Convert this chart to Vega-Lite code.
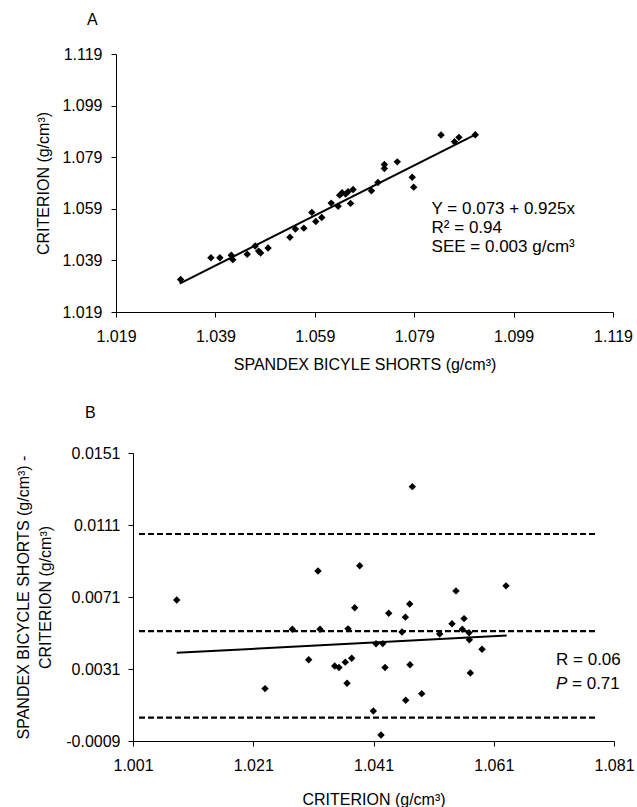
{
  "$schema": "https://vega.github.io/schema/vega-lite/v6.json",
  "padding": {"left": 15, "top": 12, "right": 0, "bottom": 0},
  "spacing": 33,
  "config": {
    "view": {"stroke": null},
    "font": "Liberation Sans",
    "axis": {
      "grid": false,
      "domainColor": "#000000",
      "tickColor": "#000000",
      "labelColor": "#000000",
      "titleColor": "#000000",
      "tickSize": 5,
      "labelFontSize": 16,
      "titleFontSize": 16,
      "titleFontWeight": "normal",
      "labelFont": "Liberation Sans",
      "titleFont": "Liberation Sans",
      "labelFlush": false,
      "labelOverlap": false
    },
    "title": {"font": "Liberation Sans", "fontSize": 16, "fontWeight": "normal", "color": "#000000", "anchor": "start", "frame": "group"}
  },
  "datasets": {
    "topPts": [
      {"x": 1.0320, "y": 1.0316}, {"x": 1.0381, "y": 1.0400}, {"x": 1.0399, "y": 1.0400}, {"x": 1.0422, "y": 1.0410},
      {"x": 1.0425, "y": 1.0393}, {"x": 1.0454, "y": 1.0414}, {"x": 1.0470, "y": 1.0446}, {"x": 1.0477, "y": 1.0426},
      {"x": 1.0481, "y": 1.0419}, {"x": 1.0496, "y": 1.0438}, {"x": 1.0540, "y": 1.0480}, {"x": 1.0551, "y": 1.0512},
      {"x": 1.0568, "y": 1.0515}, {"x": 1.0584, "y": 1.0576}, {"x": 1.0592, "y": 1.0541}, {"x": 1.0604, "y": 1.0556},
      {"x": 1.0623, "y": 1.0612}, {"x": 1.0637, "y": 1.0600}, {"x": 1.0640, "y": 1.0643}, {"x": 1.0645, "y": 1.0652},
      {"x": 1.0652, "y": 1.0647}, {"x": 1.0657, "y": 1.0656}, {"x": 1.0662, "y": 1.0611}, {"x": 1.0667, "y": 1.0665},
      {"x": 1.0704, "y": 1.0660}, {"x": 1.0717, "y": 1.0692}, {"x": 1.0730, "y": 1.0762}, {"x": 1.0730, "y": 1.0746},
      {"x": 1.0756, "y": 1.0772}, {"x": 1.0786, "y": 1.0712}, {"x": 1.0789, "y": 1.0674}, {"x": 1.0844, "y": 1.0876},
      {"x": 1.0871, "y": 1.0850}, {"x": 1.0880, "y": 1.0867}, {"x": 1.0913, "y": 1.0877}
    ],
    "topLine": [{"x": 1.0318, "y": 1.0300}, {"x": 1.0916, "y": 1.0880}],
    "topText": [
      {"x": 1.0825, "y": 1.0588, "label": "Y = 0.073 + 0.925x"},
      {"x": 1.0825, "y": 1.0515, "label": "R² = 0.94"},
      {"x": 1.0825, "y": 1.0441, "label": "SEE = 0.003 g/cm³"}
    ],
    "botPts": [
      {"x": 1.00827, "y": 0.00693}, {"x": 1.02296, "y": 0.00201}, {"x": 1.02750, "y": 0.00531}, {"x": 1.03022, "y": 0.00361},
      {"x": 1.03177, "y": 0.00854}, {"x": 1.03210, "y": 0.00531}, {"x": 1.03455, "y": 0.00327}, {"x": 1.03526, "y": 0.00318},
      {"x": 1.03631, "y": 0.00348}, {"x": 1.03660, "y": 0.00231}, {"x": 1.03676, "y": 0.00533}, {"x": 1.03738, "y": 0.00370},
      {"x": 1.03788, "y": 0.00650}, {"x": 1.03871, "y": 0.00884}, {"x": 1.04097, "y": 0.00077}, {"x": 1.04142, "y": 0.00450},
      {"x": 1.04225, "y": -0.00057}, {"x": 1.04254, "y": 0.00451}, {"x": 1.04292, "y": 0.00318}, {"x": 1.04353, "y": 0.00620},
      {"x": 1.04574, "y": 0.00516}, {"x": 1.04630, "y": 0.00598}, {"x": 1.04636, "y": 0.00136}, {"x": 1.04702, "y": 0.00671},
      {"x": 1.04707, "y": 0.00334}, {"x": 1.04746, "y": 0.01323}, {"x": 1.04902, "y": 0.00173}, {"x": 1.05201, "y": 0.00504},
      {"x": 1.05406, "y": 0.00561}, {"x": 1.05472, "y": 0.00744}, {"x": 1.05577, "y": 0.00531}, {"x": 1.05606, "y": 0.00590},
      {"x": 1.05689, "y": 0.00511}, {"x": 1.05694, "y": 0.00472}, {"x": 1.05711, "y": 0.00288}, {"x": 1.05905, "y": 0.00420},
      {"x": 1.06304, "y": 0.00772}
    ],
    "botLine": [{"x": 1.00827, "y": 0.00400}, {"x": 1.06316, "y": 0.00496}],
    "botDash": [
      {"x": 1.002, "x2": 1.0782, "y": 0.0106},
      {"x": 1.002, "x2": 1.0782, "y": 0.0052},
      {"x": 1.002, "x2": 1.0782, "y": 0.0004}
    ],
    "botText": [{"x": 1.07136, "y": 0.00361, "label": "R = 0.06"}],
    "botP": [{"x": 1.07136, "y": 0.00227, "label": "P", "rest": "= 0.71"}]
  },
  "vconcat": [
    {
      "width": 497,
      "height": 258,
      "title": {"text": "A", "dx": -29, "offset": 18},
      "encoding": {
        "x": {
          "field": "x", "type": "quantitative",
          "scale": {"domain": [1.019, 1.119], "zero": false, "nice": false},
          "axis": {"title": "SPANDEX BICYLE SHORTS (g/cm³)", "values": [1.019, 1.039, 1.059, 1.079, 1.099, 1.119], "format": ".3f", "labelPadding": 11, "titlePadding": 12}
        },
        "y": {
          "field": "y", "type": "quantitative",
          "scale": {"domain": [1.019, 1.119], "zero": false, "nice": false},
          "axis": {"title": "CRITERION (g/cm³)", "values": [1.019, 1.039, 1.059, 1.079, 1.099, 1.119], "format": ".3f", "labelPadding": 9, "titlePadding": 10}
        }
      },
      "layer": [
        {"data": {"name": "topLine"}, "mark": {"type": "line", "color": "#000000", "strokeWidth": 2}},
        {"data": {"name": "topPts"}, "mark": {"type": "point", "shape": "diamond", "filled": true, "size": 55, "color": "#000000", "opacity": 1}},
        {"data": {"name": "topText"}, "mark": {"type": "text", "align": "left", "baseline": "middle", "fontSize": 17, "color": "#000000"}, "encoding": {"text": {"field": "label"}}}
      ]
    },
    {
      "width": 498,
      "height": 288,
      "title": {"text": "B", "dx": -31, "offset": 24},
      "encoding": {
        "x": {
          "field": "x", "type": "quantitative",
          "scale": {"domain": [1.001, 1.081], "zero": false, "nice": false, "range": [17, 498]},
          "axis": {"title": "CRITERION (g/cm³)", "values": [1.001, 1.021, 1.041, 1.061, 1.081], "format": ".3f", "labelPadding": 11, "titlePadding": 18}
        },
        "y": {
          "field": "y", "type": "quantitative",
          "scale": {"domain": [-0.0009, 0.0151], "zero": false, "nice": false},
          "axis": {"title": ["SPANDEX BICYCLE SHORTS (g/cm³) -", "CRITERION (g/cm³)"], "titleLineHeight": 22, "offset": -17, "values": [-0.0009, 0.0031, 0.0071, 0.0111, 0.0151], "labelExpr": "replace(format(datum.value, '.4f'), '\u2212', '-')", "labelPadding": 8, "titlePadding": 12}
        }
      },
      "layer": [
        {"data": {"name": "botDash"}, "mark": {"type": "rule", "color": "#000000", "strokeWidth": 2.2, "strokeDash": [6, 3]}, "encoding": {"x2": {"field": "x2"}}},
        {"data": {"name": "botLine"}, "mark": {"type": "line", "color": "#000000", "strokeWidth": 2}},
        {"data": {"name": "botPts"}, "mark": {"type": "point", "shape": "diamond", "filled": true, "size": 55, "color": "#000000", "opacity": 1}},
        {"data": {"name": "botText"}, "mark": {"type": "text", "align": "left", "baseline": "middle", "fontSize": 17, "color": "#000000"}, "encoding": {"text": {"field": "label"}}},
        {"data": {"name": "botP"}, "mark": {"type": "text", "align": "left", "baseline": "middle", "fontSize": 17, "fontStyle": "italic", "color": "#000000"}, "encoding": {"text": {"field": "label"}}},
        {"data": {"name": "botP"}, "mark": {"type": "text", "align": "left", "baseline": "middle", "fontSize": 17, "dx": 16, "color": "#000000"}, "encoding": {"text": {"field": "rest"}}}
      ]
    }
  ]
}
